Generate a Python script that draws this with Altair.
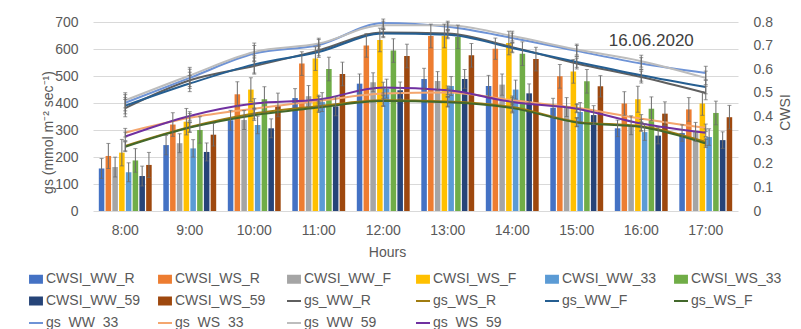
import altair as alt
import pandas as pd

hours = ["8:00", "9:00", "10:00", "11:00", "12:00", "13:00", "14:00", "15:00", "16:00", "17:00"]

bar_names = ["CWSI_WW_R", "CWSI_WS_R", "CWSI_WW_F", "CWSI_WS_F",
             "CWSI_WW_33", "CWSI_WS_33", "CWSI_WW_59", "CWSI_WS_59"]
line_names = ["gs_WW_R", "gs_WS_R", "gs_WW_F", "gs_WS_F",
              "gs_WW_33", "gs_WS_33", "gs_WW_59", "gs_WS_59"]

bar_colors = ["#4472C4", "#ED7D31", "#A5A5A5", "#FFC000",
              "#5B9BD5", "#70AD47", "#264478", "#9E480E"]
line_colors = ["#5F5F5F", "#A07C10", "#255E91", "#43682B",
               "#6E93D6", "#F4A66E", "#BDBDBD", "#7030A0"]

# CWSI (right axis)
cwsi_ww_r = [0.180, 0.279, 0.384, 0.478, 0.539, 0.559, 0.529, 0.437, 0.350, 0.330]
cwsi_ws_r = [0.233, 0.366, 0.494, 0.624, 0.701, 0.741, 0.687, 0.570, 0.455, 0.430]
cwsi_ww_f = [0.186, 0.287, 0.385, 0.486, 0.545, 0.550, 0.535, 0.440, 0.363, 0.335]
cwsi_ws_f = [0.247, 0.378, 0.514, 0.645, 0.724, 0.741, 0.711, 0.591, 0.473, 0.455]
cwsi_ww_33 = [0.164, 0.265, 0.364, 0.461, 0.518, 0.529, 0.514, 0.419, 0.334, 0.313]
cwsi_ws_33 = [0.214, 0.343, 0.473, 0.601, 0.679, 0.737, 0.666, 0.549, 0.433, 0.415]
cwsi_ww_59 = [0.148, 0.250, 0.350, 0.443, 0.511, 0.559, 0.498, 0.406, 0.319, 0.300]
cwsi_ws_59 = [0.195, 0.323, 0.449, 0.580, 0.656, 0.659, 0.643, 0.528, 0.412, 0.397]

cwsi_err_ww_r = [0.042, 0.041, 0.042, 0.040, 0.041, 0.045, 0.045, 0.040, 0.035, 0.035]
cwsi_err_ws_r = [0.053, 0.050, 0.053, 0.050, 0.050, 0.050, 0.045, 0.050, 0.050, 0.050]
cwsi_err_ww_f = [0.042, 0.040, 0.040, 0.045, 0.040, 0.040, 0.045, 0.040, 0.040, 0.040]
cwsi_err_ws_f = [0.056, 0.056, 0.050, 0.050, 0.050, 0.050, 0.050, 0.050, 0.055, 0.050]
cwsi_err_ww_33 = [0.040, 0.037, 0.037, 0.040, 0.040, 0.040, 0.040, 0.040, 0.035, 0.035]
cwsi_err_ws_33 = [0.050, 0.056, 0.053, 0.050, 0.050, 0.050, 0.050, 0.050, 0.050, 0.050]
cwsi_err_ww_59 = [0.042, 0.038, 0.040, 0.040, 0.035, 0.040, 0.040, 0.040, 0.035, 0.035]
cwsi_err_ws_59 = [0.053, 0.048, 0.050, 0.050, 0.050, 0.050, 0.050, 0.045, 0.050, 0.050]

# gs (left axis)
gs_ww_r = [381, 484, 537, 595, 661, 657, 607, 546, 496, 437]
gs_ws_r = [241, 311, 361, 388, 410, 406, 385, 330, 314, 256]
gs_ww_f = [390, 472, 543, 589, 657, 653, 604, 552, 503, 459]
gs_ws_f = [238, 309, 355, 383, 407, 403, 381, 328, 311, 250]
gs_ww_33 = [401, 493, 583, 615, 696, 682, 641, 593, 546, 511]
gs_ws_33 = [290, 345, 379, 408, 435, 439, 410, 382, 342, 308]
gs_ww_59 = [410, 502, 589, 620, 688, 688, 648, 598, 555, 493]
gs_ws_59 = [276, 352, 398, 413, 457, 447, 404, 379, 324, 290]

gs_err_ww_r = [32, 30, 30, 20, 15, 15, 18, 20, 22, 25]
gs_err_ws_r = [18, 18, 20, 18, 20, 18, 18, 16, 16, 15]
gs_err_ww_f = [30, 30, 32, 20, 15, 15, 18, 20, 22, 25]
gs_err_ws_f = [18, 18, 20, 18, 20, 18, 18, 16, 16, 15]
gs_err_ww_33 = [30, 32, 30, 20, 15, 15, 18, 20, 22, 25]
gs_err_ws_33 = [16, 16, 18, 16, 18, 16, 16, 15, 15, 14]
gs_err_ww_59 = [28, 30, 33, 20, 15, 15, 18, 20, 22, 25]
gs_err_ws_59 = [16, 16, 18, 16, 20, 16, 16, 15, 15, 14]

annotation_text = "16.06.2020"
annotation_hour = "16:00"
annotation_gs = 630

cwsi_values = [cwsi_ww_r, cwsi_ws_r, cwsi_ww_f, cwsi_ws_f, cwsi_ww_33, cwsi_ws_33, cwsi_ww_59, cwsi_ws_59]
cwsi_errors = [cwsi_err_ww_r, cwsi_err_ws_r, cwsi_err_ww_f, cwsi_err_ws_f,
               cwsi_err_ww_33, cwsi_err_ws_33, cwsi_err_ww_59, cwsi_err_ws_59]
gs_values = [gs_ww_r, gs_ws_r, gs_ww_f, gs_ws_f, gs_ww_33, gs_ws_33, gs_ww_59, gs_ws_59]
gs_errors = [gs_err_ww_r, gs_err_ws_r, gs_err_ww_f, gs_err_ws_f,
             gs_err_ww_33, gs_err_ws_33, gs_err_ww_59, gs_err_ws_59]


def long_table(names, values, errors):
    rows = []
    for name, vals, errs in zip(names, values, errors):
        for h, v, e in zip(hours, vals, errs):
            rows.append({"hour": h, "series": name, "v": v, "lo": v - e, "hi": v + e})
    return pd.DataFrame(rows)


bar_df = long_table(bar_names, cwsi_values, cwsi_errors)
line_df = long_table(line_names, gs_values, gs_errors)

FONT = "Liberation Sans"
TXT = "#595959"
ERR = "#6B6B6B"
all_names = bar_names + line_names
all_colors = bar_colors + line_colors
rect_path = "M-0.85,-0.5H0.85V0.5H-0.85Z"
shapes = [rect_path] * len(bar_names) + ["stroke"] * len(line_names)

x_scale = alt.Scale(domain=hours, paddingInner=0.18, paddingOuter=0.09)
x_enc = alt.X("hour:N", sort=hours, scale=x_scale,
              axis=alt.Axis(title="Hours", labelAngle=0, domain=False, ticks=False,
                            labelPadding=12, titlePadding=8, titleX=294))
xoff = alt.XOffset("series:N", sort=bar_names,
                   scale=alt.Scale(domain=bar_names, paddingInner=0.18, paddingOuter=0))
# mark colour scale (domain order differs from the legend scales so the legends stay separate)
mark_names = line_names + bar_names
mark_colors = line_colors + bar_colors
color_enc = alt.Color("series:N", scale=alt.Scale(domain=mark_names, range=mark_colors), legend=None)

cwsi_scale = alt.Scale(domain=[0, 0.8], nice=False, zero=True)
gs_scale = alt.Scale(domain=[0, 700], nice=False, zero=True)

bars = alt.Chart(bar_df).mark_bar().encode(
    x=x_enc, xOffset=xoff,
    y=alt.Y("v:Q", scale=cwsi_scale,
            axis=alt.Axis(orient="right", title="CWSI", grid=False,
                          values=[0, 0.1, 0.2, 0.3, 0.4, 0.5, 0.6, 0.7, 0.8],
                          labelExpr="datum.value == 0 ? '0' : format(datum.value, '.1f')",
                          labelPadding=15, titleAngle=270, titleBaseline="middle",
                          titleX=47, titleY=90)),
    color=color_enc,
)
bar_rule = alt.Chart(bar_df).mark_rule(color=ERR, strokeWidth=1).encode(
    x=x_enc, xOffset=xoff,
    y=alt.Y("lo:Q", scale=cwsi_scale, axis=None), y2="hi:Q",
)
bar_cap_hi = alt.Chart(bar_df).mark_tick(color=ERR, thickness=1, size=4).encode(
    x=x_enc, xOffset=xoff, y=alt.Y("hi:Q", scale=cwsi_scale, axis=None),
)
bar_cap_lo = alt.Chart(bar_df).mark_tick(color=ERR, thickness=1, size=4).encode(
    x=x_enc, xOffset=xoff, y=alt.Y("lo:Q", scale=cwsi_scale, axis=None),
)

lines = alt.Chart(line_df).mark_line(strokeWidth=2, interpolate="monotone").encode(
    x=x_enc,
    y=alt.Y("v:Q", scale=gs_scale,
            axis=alt.Axis(orient="left", title="gs (mmol m\u207b\u00b2 sec\u207b\u00b9)",
                          values=[0, 100, 200, 300, 400, 500, 600, 700],
                          grid=True, gridColor="#D9D9D9", gridWidth=1,
                          labelPadding=15, titleAngle=270, titleBaseline="middle",
                          titleX=-45, titleY=110)),
    color=color_enc,
)
line_rule = alt.Chart(line_df).mark_rule(color=ERR, strokeWidth=1).encode(
    x=x_enc, y=alt.Y("lo:Q", scale=gs_scale, axis=None), y2="hi:Q",
)
line_cap_hi = alt.Chart(line_df).mark_tick(color=ERR, thickness=1, size=4).encode(
    x=x_enc, y=alt.Y("hi:Q", scale=gs_scale, axis=None),
)
line_cap_lo = alt.Chart(line_df).mark_tick(color=ERR, thickness=1, size=4).encode(
    x=x_enc, y=alt.Y("lo:Q", scale=gs_scale, axis=None),
)

ann_df = pd.DataFrame({"hour": [annotation_hour], "v": [annotation_gs], "t": [annotation_text]})
ann = alt.Chart(ann_df).mark_text(font=FONT, fontSize=17, color="#404040", dx=10).encode(
    x=x_enc, y=alt.Y("v:Q", scale=gs_scale, axis=None), text="t:N",
)

legend_props = dict(orient="none", legendX=-65, legendY=249, direction="horizontal",
                    columns=6, columnPadding=13,
                    rowPadding=6, gridAlign="all", title=None, labelFont=FONT, labelFontSize=14,
                    labelColor=TXT, symbolSize=196, symbolStrokeWidth=2, symbolOpacity=1,
                    labelOffset=2, padding=0)
leg_df = pd.DataFrame({"series": all_names})
leg = alt.Chart(leg_df).mark_point(opacity=0).encode(
    fill=alt.Fill("series:N", scale=alt.Scale(domain=all_names, range=all_colors),
                  legend=alt.Legend(**legend_props)),
    stroke=alt.Stroke("series:N", scale=alt.Scale(domain=all_names, range=all_colors),
                      legend=alt.Legend(**legend_props)),
    shape=alt.Shape("series:N", scale=alt.Scale(domain=all_names, range=shapes),
                    legend=alt.Legend(**legend_props)),
)

chart = alt.layer(
    bars, lines, bar_rule, bar_cap_hi, bar_cap_lo, line_rule, line_cap_hi, line_cap_lo, ann, leg
).resolve_scale(
    y="independent"
).properties(
    width=645, height=189,
    padding={"left": 85, "top": 14, "right": 55, "bottom": 118},
    autosize=alt.AutoSizeParams(type="none"),
).configure_view(stroke=None).configure_axis(
    labelFont=FONT, labelFontSize=14, labelColor=TXT,
    titleFont=FONT, titleFontSize=14, titleColor=TXT, titleFontWeight="normal",
    domain=False, ticks=False,
)

chart.save("out.html", embed_options={"renderer": "svg", "actions": False})
